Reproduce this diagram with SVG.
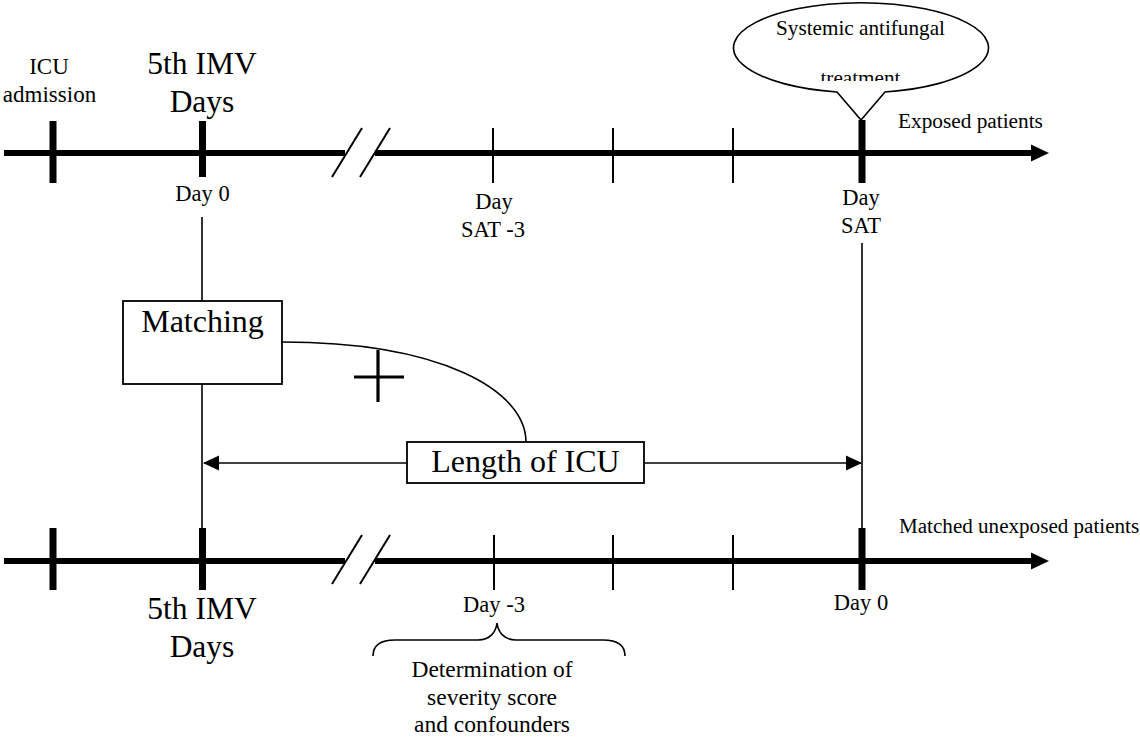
<svg xmlns="http://www.w3.org/2000/svg" width="1140" height="742" viewBox="0 0 1140 742">
<style>
text{font-family:"Liberation Serif","Times New Roman",serif;fill:#000;text-anchor:middle}
.s{font-size:22.5px}
.b{font-size:31.5px}
.axis{stroke:#000;stroke-width:6;fill:none}
.tk{stroke:#000;stroke-width:7}
.tn{stroke:#000;stroke-width:2}
.thin{stroke:#000;stroke-width:1.6;fill:none}
.box{fill:#fff;stroke:#000;stroke-width:1.8}
</style>
<defs>
<clipPath id="cl"><rect x="700" y="0" width="320" height="81"/></clipPath>
<marker id="ah" viewBox="0 0 16 16" refX="15" refY="8" markerWidth="16" markerHeight="16" markerUnits="userSpaceOnUse" orient="auto"><path d="M0,0.5 L16,8 L0,15.5 Z" fill="#000"/></marker>
</defs>
<g id="top-timeline">
<line class="axis" x1="4" y1="153" x2="345" y2="153"/>
<line class="axis" x1="375" y1="153" x2="1033" y2="153"/>
<path d="M1031,144.5 L1049,153 L1031,161.5 Z" fill="#000"/>
<line class="tn" x1="332" y1="177" x2="362" y2="128"/>
<line class="tn" x1="360" y1="177" x2="390" y2="128"/>
<line class="tk" x1="53" y1="121" x2="53" y2="183"/>
<line class="tk" x1="202.5" y1="121" x2="202.5" y2="177"/>
<line class="tn" x1="493" y1="128" x2="493" y2="183"/>
<line class="tn" x1="613" y1="128" x2="613" y2="183"/>
<line class="tn" x1="733" y1="128" x2="733" y2="183"/>
<line class="tk" x1="862" y1="120" x2="862" y2="183"/>
<text x="49" y="74" style="font-size:23px">ICU</text>
<text x="49.5" y="102" style="font-size:23px">admission</text>
<text class="b" x="202" y="74">5th IMV</text>
<text class="b" x="202" y="112">Days</text>
<text class="s" x="202.5" y="201">Day 0</text>
<text class="s" x="494" y="209">Day</text>
<text class="s" x="493" y="237">SAT -3</text>
<text class="s" x="861" y="205">Day</text>
<text class="s" x="861" y="233">SAT</text>
<text x="898" y="128" style="font-size:21.3px;text-anchor:start">Exposed patients</text>
</g>
<g id="callout">
<path d="M837,92 A127.5,45 0 1 1 885,92 L861,120 Z" fill="#fff" stroke="#000" stroke-width="1.6"/>
<text x="860.5" y="35" style="font-size:21.2px">Systemic antifungal</text>
<text x="860.5" y="85" style="font-size:21.2px" clip-path="url(#cl)">treatment</text>
</g>
<g id="bottom-timeline">
<line class="axis" x1="4" y1="561" x2="345" y2="561"/>
<line class="axis" x1="375" y1="561" x2="1033" y2="561"/>
<path d="M1031,552.5 L1049,561 L1031,569.5 Z" fill="#000"/>
<line class="tn" x1="332" y1="584" x2="362" y2="535"/>
<line class="tn" x1="360" y1="584" x2="390" y2="535"/>
<line class="tk" x1="53" y1="528" x2="53" y2="590"/>
<line class="tk" x1="202.5" y1="528" x2="202.5" y2="590"/>
<line class="tn" x1="494" y1="535" x2="494" y2="590"/>
<line class="tn" x1="613" y1="535" x2="613" y2="590"/>
<line class="tn" x1="733" y1="535" x2="733" y2="590"/>
<line class="tk" x1="862" y1="528" x2="862" y2="590"/>
<text x="899" y="533" style="font-size:21.1px;text-anchor:start">Matched unexposed patients</text>
<text class="b" x="202" y="619">5th IMV</text>
<text class="b" x="202" y="657">Days</text>
<text class="s" x="494" y="612">Day -3</text>
<text class="s" x="861" y="610">Day 0</text>
</g>
<g id="connectors">
<line class="thin" x1="202" y1="217" x2="202" y2="301"/>
<line class="thin" x1="202" y1="384" x2="202" y2="528"/>
<line class="thin" x1="862" y1="243" x2="862" y2="528"/>
<line class="thin" x1="407" y1="463" x2="204" y2="463" marker-end="url(#ah)"/>
<line class="thin" x1="644" y1="463" x2="861" y2="463" marker-end="url(#ah)"/>
<path class="thin" d="M282,342 C440,342 526,390 526,442"/>
</g>
<g id="matching">
<rect class="box" x="123" y="301" width="159" height="83"/>
<text style="font-size:32px" x="202.5" y="332">Matching</text>
</g>
<g id="plus">
<line stroke="#000" stroke-width="3.2" x1="354" y1="377" x2="404" y2="377"/>
<line stroke="#000" stroke-width="3.2" x1="378" y1="350" x2="378" y2="402"/>
</g>
<g id="length">
<rect class="box" x="407" y="442" width="237" height="41"/>
<text style="font-size:32px" x="525.5" y="472">Length of ICU</text>
</g>
<g id="brace">
<path class="thin" stroke-width="2" d="M373,656 C373,645 380,640 395,640 L478,640 C490,640 496,632 497,623 C498,632 504,640 516,640 L603,640 C618,640 625,645 625,656"/>
<text x="492" y="677" style="font-size:23.5px">Determination of</text>
<text x="492" y="705" style="font-size:23.5px">severity score</text>
<text x="492" y="732" style="font-size:23.5px">and confounders</text>
</g>
</svg>
